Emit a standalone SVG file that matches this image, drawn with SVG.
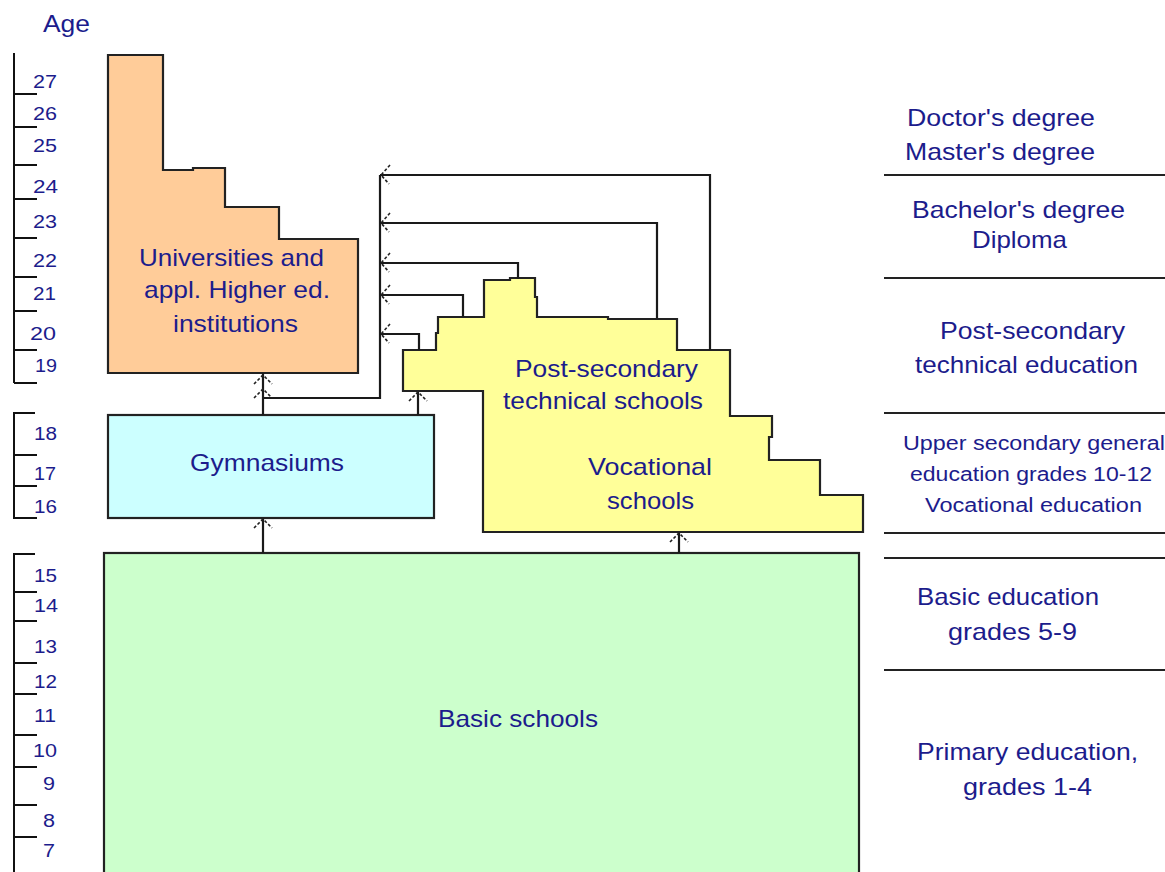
<svg xmlns="http://www.w3.org/2000/svg" width="1165" height="872" viewBox="0 0 1165 872">
<style>
.ax{stroke:#111;stroke-width:2;fill:none}
.num{font-family:"Liberation Sans",Arial,sans-serif;font-size:18px;fill:#1c1c8c}
.lbl{font-family:"Liberation Sans",Arial,sans-serif;font-size:24px;fill:#1c1c8c}
.rl{font-family:"Liberation Sans",Arial,sans-serif;font-size:24px;fill:#1c1c8c}
.rs{font-family:"Liberation Sans",Arial,sans-serif;font-size:20px;fill:#1c1c8c}
.shape{stroke:#222;stroke-width:2.2}
.con{stroke:#1a1a1a;stroke-width:2.2;fill:none}
.ah{stroke:#222;stroke-width:1.6;fill:none;stroke-dasharray:3,2}
.sep{stroke:#222;stroke-width:2}
</style>
<rect width="1165" height="872" fill="#fff"/>
<g id="age-scale">
<text class="lbl" x="43" y="32" textLength="47" lengthAdjust="spacingAndGlyphs">Age</text>
<path class="ax" d="M14,53V383M14,94H37M14,127H37M14,165H37M14,199H37M14,238H37M14,277H37M14,311H37M14,350H37M14,383H37"/>
<path class="ax" d="M35,413H14V518H37M14,455H37M14,486H37"/>
<path class="ax" d="M35,554H14V872M14,592H37M14,621H37M14,663H37M14,694H37M14,735H37M14,767H37M14,805H37M14,837H37"/>
<g class="num">
<text x="33" y="88" textLength="24" lengthAdjust="spacingAndGlyphs">27</text>
<text x="33" y="120" textLength="24" lengthAdjust="spacingAndGlyphs">26</text>
<text x="33" y="152" textLength="24" lengthAdjust="spacingAndGlyphs">25</text>
<text x="33" y="193" textLength="25" lengthAdjust="spacingAndGlyphs">24</text>
<text x="33" y="228" textLength="24" lengthAdjust="spacingAndGlyphs">23</text>
<text x="33" y="267" textLength="24" lengthAdjust="spacingAndGlyphs">22</text>
<text x="33" y="300" textLength="23" lengthAdjust="spacingAndGlyphs">21</text>
<text x="30" y="340" textLength="26" lengthAdjust="spacingAndGlyphs">20</text>
<text x="35" y="372" textLength="22" lengthAdjust="spacingAndGlyphs">19</text>
<text x="34" y="440" textLength="23" lengthAdjust="spacingAndGlyphs">18</text>
<text x="34" y="480" textLength="22" lengthAdjust="spacingAndGlyphs">17</text>
<text x="34" y="513" textLength="23" lengthAdjust="spacingAndGlyphs">16</text>
<text x="34" y="582" textLength="23" lengthAdjust="spacingAndGlyphs">15</text>
<text x="34" y="612" textLength="24" lengthAdjust="spacingAndGlyphs">14</text>
<text x="34" y="653" textLength="23" lengthAdjust="spacingAndGlyphs">13</text>
<text x="34" y="688" textLength="23" lengthAdjust="spacingAndGlyphs">12</text>
<text x="34" y="722" textLength="22" lengthAdjust="spacingAndGlyphs">11</text>
<text x="33" y="757" textLength="24" lengthAdjust="spacingAndGlyphs">10</text>
<text x="43" y="790" textLength="12" lengthAdjust="spacingAndGlyphs">9</text>
<text x="43" y="827" textLength="12" lengthAdjust="spacingAndGlyphs">8</text>
<text x="43" y="857" textLength="12" lengthAdjust="spacingAndGlyphs">7</text>
</g>
</g>
<g id="universities">
<path class="shape" fill="#ffcc99" d="M108,55H163V170H193V168H225V207H279V239H358V373H108Z"/>
<text class="lbl" x="139" y="266" textLength="185" lengthAdjust="spacingAndGlyphs">Universities and</text>
<text class="lbl" x="144" y="298" textLength="186" lengthAdjust="spacingAndGlyphs">appl. Higher ed.</text>
<text class="lbl" x="173" y="332" textLength="125" lengthAdjust="spacingAndGlyphs">institutions</text>
</g>
<g id="gymnasiums">
<rect class="shape" fill="#ccffff" x="108" y="415" width="326" height="103"/>
<text class="lbl" x="190" y="471" textLength="154" lengthAdjust="spacingAndGlyphs">Gymnasiums</text>
</g>
<g id="vocational">
<path class="shape" fill="#ffff99" d="M403,350H436V333H438V317H484V280H510V278H535V297H537V317H608V319H677V350H730V416H772V437H769V460H820V495H863V532H483V391H403Z"/>
<text class="lbl" x="515" y="377" textLength="183" lengthAdjust="spacingAndGlyphs">Post-secondary</text>
<text class="lbl" x="503" y="409" textLength="200" lengthAdjust="spacingAndGlyphs">technical schools</text>
<text class="lbl" x="588" y="475" textLength="124" lengthAdjust="spacingAndGlyphs">Vocational</text>
<text class="lbl" x="607" y="509" textLength="87" lengthAdjust="spacingAndGlyphs">schools</text>
</g>
<g id="basic">
<rect class="shape" fill="#ccffcc" x="104" y="553" width="755" height="330"/>
<text class="lbl" x="438" y="727" textLength="160" lengthAdjust="spacingAndGlyphs">Basic schools</text>
</g>
<g id="connectors">
<path class="con" d="M380,175V398H263"/>
<path class="con" d="M380,175H710V350"/>
<path class="con" d="M380,223H657V318"/>
<path class="con" d="M380,263H518V279"/>
<path class="con" d="M380,295H463V317"/>
<path class="con" d="M380,334H419V350"/>
<path class="con" d="M263,415V373"/>
<path class="con" d="M418,415V391"/>
<path class="con" d="M263,553V518"/>
<path class="con" d="M679,553V532"/>
<g class="ah">
<path d="M390,165L381,175L389,184"/>
<path d="M390,213L381,223L389,232"/>
<path d="M390,253L381,263L389,272"/>
<path d="M390,285L381,295L389,304"/>
<path d="M390,324L381,334L389,343"/>
<path d="M254,384L263,375L272,384"/>
<path d="M254,398L263,389L272,398"/>
<path d="M409,401L418,392L427,401"/>
<path d="M254,528L263,519L272,528"/>
<path d="M670,542L679,533L688,542"/>
</g>
</g>
<g id="levels">
<path class="sep" d="M884,175H1165M884,278H1165M884,413H1165M884,533H1165M884,558H1165M884,670H1165"/>
<text class="rl" x="907" y="126" textLength="188" lengthAdjust="spacingAndGlyphs">Doctor's degree</text>
<text class="rl" x="905" y="160" textLength="190" lengthAdjust="spacingAndGlyphs">Master's degree</text>
<text class="rl" x="912" y="218" textLength="213" lengthAdjust="spacingAndGlyphs">Bachelor's degree</text>
<text class="rl" x="972" y="248" textLength="95" lengthAdjust="spacingAndGlyphs">Diploma</text>
<text class="rl" x="940" y="339" textLength="185" lengthAdjust="spacingAndGlyphs">Post-secondary</text>
<text class="rl" x="915" y="373" textLength="223" lengthAdjust="spacingAndGlyphs">technical education</text>
<text class="rs" x="903" y="450" textLength="262" lengthAdjust="spacingAndGlyphs">Upper secondary general</text>
<text class="rs" x="910" y="481" textLength="242" lengthAdjust="spacingAndGlyphs">education grades 10-12</text>
<text class="rs" x="925" y="512" textLength="217" lengthAdjust="spacingAndGlyphs">Vocational education</text>
<text class="rl" x="917" y="605" textLength="182" lengthAdjust="spacingAndGlyphs">Basic education</text>
<text class="rl" x="948" y="640" textLength="129" lengthAdjust="spacingAndGlyphs">grades 5-9</text>
<text class="rl" x="917" y="760" textLength="221" lengthAdjust="spacingAndGlyphs">Primary education,</text>
<text class="rl" x="963" y="795" textLength="129" lengthAdjust="spacingAndGlyphs">grades 1-4</text>
</g>
</svg>
